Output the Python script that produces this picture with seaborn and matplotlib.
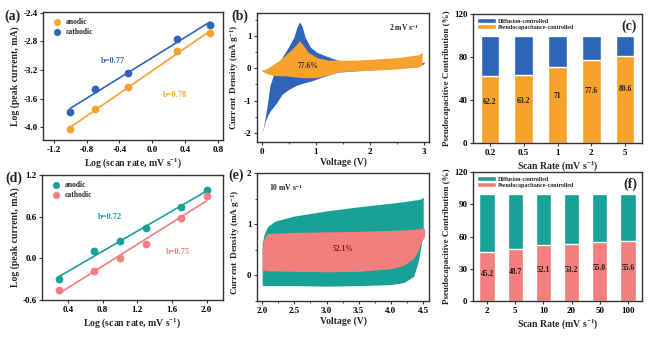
import numpy as np
import pandas as pd
import matplotlib
matplotlib.use("Agg")
import matplotlib.pyplot as plt
from matplotlib.ticker import FormatStrFormatter, MultipleLocator
import seaborn as sns

# ---------------- data ----------------
# (a) log peak current vs log scan rate, first material
a_logv = [-1.0, -0.7, -0.3, 0.3, 0.7]
a_anodic = [-4.03, -3.75, -3.44, -2.94, -2.69]
a_cathodic = [-3.79, -3.47, -3.25, -2.77, -2.57]

# (b) CV at 2 mV/s: total current and capacitive part
b_tot_v = [0.0, 0.03, 0.06, 0.11, 0.15, 0.22, 0.28, 0.37, 0.49, 0.59, 0.65, 0.69, 0.74, 0.8, 0.9, 1.02, 1.17, 1.4, 2.0, 2.5, 2.9, 3.0]
b_tot_up = [-2.04, -1.8, -1.54, -1.02, -0.52, -0.19, 0.07, 0.33, 0.65, 0.96, 1.27, 1.43, 1.32, 0.96, 0.65, 0.49, 0.39, 0.25, 0.15, 0.1, 0.13, 0.2]
b_tot_lo = [-2.04, -1.85, -1.65, -1.45, -1.33, -1.18, -1.05, -0.81, -0.66, -0.57, -0.52, -0.5, -0.47, -0.44, -0.4, -0.33, -0.24, -0.12, -0.05, 0.0, 0.05, 0.15]
b_cap_v = [-0.02, 0.06, 0.12, 0.19, 0.31, 0.49, 0.62, 0.7, 0.77, 0.86, 1.02, 1.23, 1.42, 1.73, 2.04, 2.5, 2.9, 2.96]
b_cap_up = [-0.06, -0.03, 0.02, 0.1, 0.23, 0.49, 0.7, 0.85, 0.7, 0.49, 0.33, 0.25, 0.25, 0.25, 0.28, 0.33, 0.42, 0.5]
b_cap_lo = [-0.06, -0.14, -0.18, -0.21, -0.23, -0.24, -0.27, -0.28, -0.29, -0.29, -0.29, -0.2, -0.11, -0.08, -0.06, -0.02, 0.05, 0.1]

# (c) contribution ratio, first material
c_rates = ["0.2", "0.5", "1", "2", "5"]
c_pseudo = [62.2, 63.2, 71, 77.6, 80.6]

# (d) log peak current vs log scan rate, second material
d_logv = [0.3, 0.7, 1.0, 1.3, 1.7, 2.0]
d_anodic = [-0.3, 0.1, 0.25, 0.43, 0.74, 0.98]
d_cathodic = [-0.45, -0.18, 0.0, 0.2, 0.58, 0.9]

# (e) CV at 10 mV/s: total current and capacitive part
e_tot_v = [2.0, 2.03, 2.07, 2.1, 2.2, 2.5, 3.0, 3.5, 4.0, 4.2, 4.35, 4.42, 4.47, 4.5]
e_tot_up = [0.62, 0.8, 0.92, 0.97, 1.06, 1.16, 1.26, 1.34, 1.41, 1.44, 1.47, 1.48, 1.5, 1.53]
e_tot_lo = [-0.2, -0.2, -0.2, -0.2, -0.2, -0.2, -0.21, -0.2, -0.18, -0.14, -0.02, 0.25, 0.6, 0.9]
e_cap_v = [2.0, 2.03, 2.07, 2.1, 2.5, 3.0, 3.5, 4.0, 4.2, 4.35, 4.42, 4.48, 4.52]
e_cap_up = [0.55, 0.72, 0.8, 0.82, 0.84, 0.85, 0.86, 0.88, 0.89, 0.9, 0.91, 0.92, 0.92]
e_cap_lo = [0.1, 0.1, 0.09, 0.09, 0.08, 0.07, 0.08, 0.13, 0.2, 0.33, 0.48, 0.68, 0.75]

# (f) contribution ratio, second material
f_rates = ["2", "5", "10", "20", "50", "100"]
f_pseudo = [45.2, 48.7, 52.1, 53.2, 55.0, 55.6]

# ---------------- style ----------------
ORANGE = "#F8A22E"
BLUE = "#2F65B8"
TEAL = "#18A197"
PINK = "#F27F7E"
EDGE = "#333333"

sns.set_style("ticks")
plt.rcParams["font.family"] = ["Liberation Serif", "DejaVu Serif"]
plt.rcParams["font.weight"] = "bold"
plt.rcParams["axes.labelweight"] = "bold"
plt.rcParams["axes.unicode_minus"] = False
plt.rcParams["mathtext.fontset"] = "custom"
plt.rcParams["mathtext.rm"] = "Liberation Serif:bold"
plt.rcParams["mathtext.it"] = "Liberation Serif:bold"
plt.rcParams["mathtext.bf"] = "Liberation Serif:bold"
plt.rcParams["axes.edgecolor"] = EDGE
plt.rcParams["axes.linewidth"] = 1.0
plt.rcParams["xtick.color"] = EDGE
plt.rcParams["ytick.color"] = EDGE
plt.rcParams["xtick.labelcolor"] = "black"
plt.rcParams["ytick.labelcolor"] = "black"
plt.rcParams["xtick.major.size"] = 2.5
plt.rcParams["ytick.major.size"] = 2.5
plt.rcParams["xtick.minor.size"] = 1.5
plt.rcParams["ytick.minor.size"] = 1.5
plt.rcParams["xtick.major.pad"] = 2
plt.rcParams["ytick.major.pad"] = 1.5
plt.rcParams["xtick.labelsize"] = 6.5
plt.rcParams["ytick.labelsize"] = 6.5
plt.rcParams["axes.labelsize"] = 7

fig = plt.figure(figsize=(6.57, 3.37), dpi=100)
W, H = 657, 337


def add_ax(l, t, r, b):
    return fig.add_axes([l / W, 1 - b / H, (r - l) / W, (b - t) / H])


def panel_label(txt, x, y):
    fig.text(x / W, 1 - y / H, txt, fontsize=10, fontweight="bold", va="center", ha="left")


def log_panel(ax, x, y1, y2, c1, c2, n1, n2):
    for y, c, n in ((y1, c1, n1), (y2, c2, n2)):
        sns.regplot(x=x, y=y, ax=ax, scatter=False, ci=None, color=c,
                    line_kws={"lw": 1.2})
        sns.scatterplot(x=x, y=y, ax=ax, color=c, s=26, edgecolor=c,
                        linewidth=0.5, label=n, zorder=3)
    ax.legend(loc="upper left", frameon=False, fontsize=5.5,
              handletextpad=0.2, borderaxespad=0.4, labelspacing=0.3,
              markerscale=0.9)


def ratio_panel(ax, rates, pseudo, ctop, cbot, lab_frac, ticks):
    df = pd.DataFrame({"rate": rates, "pseudo": pseudo, "total": [100] * len(rates)})
    sns.barplot(data=df, x="rate", y="total", ax=ax, color=ctop, width=0.55,
                saturation=1, label="Diffusion-controlled")
    sns.barplot(data=df, x="rate", y="pseudo", ax=ax, color=cbot, width=0.55,
                saturation=1, label="Pseudocapacitance-controlled")
    for i, v in enumerate(pseudo):
        ax.text(i, v * lab_frac, f"{v:.1f}".rstrip("0").rstrip(".") if v != 55.0 else "55.0",
                ha="center", va="center", fontsize=5.5, fontweight="bold",
                color="#222222")
    ax.set_ylim(0, 120)
    ax.set_yticks(ticks)
    ax.set_xlabel("Scan Rate (mV s$^{-1}$)", labelpad=1)
    ax.set_ylabel("Pseudocapacitive Contribution (%)", fontsize=6.5, labelpad=2)
    ax.legend(loc="upper left", frameon=False, fontsize=4.3, handlelength=3.2,
              handleheight=0.9, handletextpad=0.3, labelspacing=0.1,
              borderaxespad=0.3)


# ---- (a)
ax = add_ax(43, 12, 223, 140)
log_panel(ax, a_logv, a_anodic, a_cathodic, ORANGE, BLUE, "anodic", "cathodic")
ax.set_xlim(-1.33, 0.86)
ax.set_ylim(-4.18, -2.39)
ax.set_xticks(np.arange(-1.2, 0.81, 0.4))
ax.set_yticks(np.arange(-4.0, -2.39, 0.4))
ax.xaxis.set_major_formatter(FormatStrFormatter("%.1f"))
ax.yaxis.set_major_formatter(FormatStrFormatter("%.1f"))
ax.text(-0.63, -3.1, "b=0.77", color=BLUE, fontsize=6, fontweight="bold")
ax.text(0.13, -3.58, "b=0.78", color=ORANGE, fontsize=6, fontweight="bold")
ax.set_xlabel("Log (scan rate, mV s$^{-1}$)", labelpad=1)
ax.set_ylabel("Log (peak current, mA)", labelpad=2)
panel_label("(a)", 4, 16)

# ---- (b)
ax = add_ax(257, 13, 429, 142)
ax.fill_between(b_tot_v, b_tot_lo, b_tot_up, color=BLUE, lw=0)
ax.fill_between(b_cap_v, b_cap_lo, b_cap_up, color=ORANGE, lw=0)
ax.set_xlim(-0.09, 3.09)
ax.set_ylim(-2.28, 1.71)
ax.set_xticks([0, 1, 2, 3])
ax.set_yticks([-2, -1, 0, 1])
ax.xaxis.set_minor_locator(MultipleLocator(0.5))
ax.yaxis.set_minor_locator(MultipleLocator(0.5))
ax.text(0.66, 0.02, "77.6%", fontsize=5.5, fontweight="bold", color="#333333")
ax.text(2.35, 1.15, "2 mV s$^{-1}$", fontsize=5.5, fontweight="bold")
ax.set_xlabel("Voltage (V)", labelpad=1)
ax.set_ylabel("Current  Density (mA g$^{-1}$)", fontsize=6.7, labelpad=2)
panel_label("(b)", 231, 16)

# ---- (c)
ax = add_ax(473, 14, 642, 143)
ratio_panel(ax, c_rates, c_pseudo, BLUE, ORANGE, 0.62, [0, 40, 80, 120])
ax.text(0.97, 0.96, "(c)", transform=ax.transAxes, ha="right", va="top",
        fontsize=10, fontweight="bold")

# ---- (d)
ax = add_ax(42, 175, 223, 300)
log_panel(ax, d_logv, d_anodic, d_cathodic, TEAL, PINK, "anodic", "cathodic")
ax.set_xlim(0.1, 2.19)
ax.set_ylim(-0.6, 1.2)
ax.set_xticks(np.arange(0.4, 2.01, 0.4))
ax.set_yticks([-0.6, 0.0, 0.6, 1.2])
ax.xaxis.set_major_formatter(FormatStrFormatter("%.1f"))
ax.yaxis.set_major_formatter(FormatStrFormatter("%.1f"))
ax.text(0.75, 0.56, "b=0.72", color=TEAL, fontsize=6, fontweight="bold")
ax.text(1.53, 0.06, "b=0.75", color=PINK, fontsize=6, fontweight="bold")
ax.set_xlabel("Log (scan rate, mV s$^{-1}$)", labelpad=1)
ax.set_ylabel("Log (peak current, mA)", labelpad=2)
panel_label("(d)", 5, 178)

# ---- (e)
ax = add_ax(257, 173, 429, 301)
ax.fill_between(e_tot_v, e_tot_lo, e_tot_up, color=TEAL, lw=0)
ax.fill_between(e_cap_v, e_cap_lo, e_cap_up, color=PINK, lw=0)
ax.set_xlim(1.92, 4.59)
ax.set_ylim(-0.5, 2.0)
ax.set_xticks(np.arange(2.0, 4.51, 0.5))
ax.set_yticks([0, 1, 2])
ax.xaxis.set_minor_locator(MultipleLocator(0.25))
ax.yaxis.set_minor_locator(MultipleLocator(0.5))
ax.xaxis.set_major_formatter(FormatStrFormatter("%.1f"))
ax.text(3.1, 0.47, "52.1%", fontsize=5.5, fontweight="bold", color="#8B1A1A")
ax.text(2.1, 1.65, "10 mV s$^{-1}$", fontsize=5.5, fontweight="bold")
ax.set_xlabel("Voltage (V)", labelpad=1)
ax.set_ylabel("Current  Density (mA g$^{-1}$)", fontsize=6.7, labelpad=2)
ax.yaxis.set_label_coords(-0.085, 0.46)
panel_label("(e)", 228, 175)

# ---- (f)
ax = add_ax(473, 172, 642, 301)
ratio_panel(ax, f_rates, f_pseudo, TEAL, PINK, 0.55, [0, 30, 60, 90, 120])
ax.text(0.97, 0.96, "(f)", transform=ax.transAxes, ha="right", va="top",
        fontsize=10, fontweight="bold")

fig.savefig("out.png", dpi=100, facecolor="white")
